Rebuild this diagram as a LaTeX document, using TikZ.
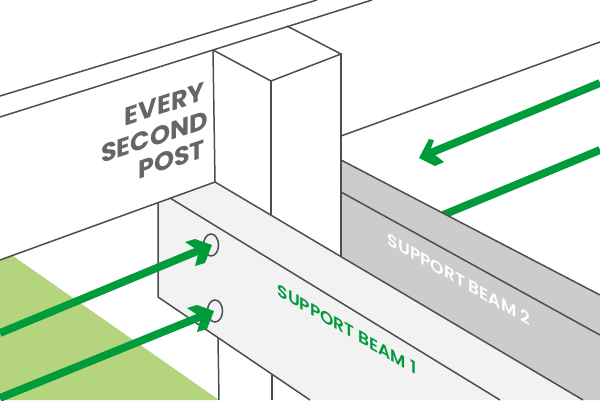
\documentclass[tikz,border=0pt]{standalone}
\usepackage{fontspec}
\setmainfont{Poppins}
\newfontfamily\beamfont{Poppins SemiBold}
\definecolor{ink}{HTML}{4D4D4D}
\definecolor{leaf}{HTML}{009B3A}
\definecolor{grass}{HTML}{B5D47E}
\definecolor{beamone}{HTML}{F2F2F2}
\definecolor{beamtwo}{HTML}{CCCCCC}
\definecolor{label}{HTML}{666666}
\tikzset{
  edge/.style={draw=ink,line width=1.5pt},
  shaft/.style={draw=leaf,line width=7.8pt},
  head/.style={fill=leaf,draw=none},
  posttext/.style={font=\bfseries\fontsize{25.5}{25.5}\selectfont,text=label,yslant=0.33,transform shape,inner sep=0pt,anchor=base east},
  beamtext/.style={font=\beamfont\fontsize{17}{17}\selectfont,yslant=-0.57,transform shape,inner sep=0pt}
}
\begin{document}
\begin{tikzpicture}[x=1pt,y=-1pt]
\useasboundingbox (0,0) rectangle (600,400);
\fill[white] (0,0) rectangle (600,400);
% ground
\fill[grass] (0,260) -- (13,256) -- (219,400) -- (0,400) -- cycle;
% far arrows behind the second beam
\draw[shaft] (600,150) -- (443,215);
\draw[shaft] (600,83) -- (428,154);
\fill[head] (419,158) -- (429,139) -- (434,140) -- (430,151) -- (444,162) -- (435,166) -- cycle;
% beam 2
\fill[beamtwo] (341,160) -- (600,295) -- (600,400) -- (583,400) -- (341,257) -- cycle;
\draw[edge] (341,160) -- (600,295);
\draw[edge] (341,192) -- (600,335);
% rails and post
\draw[edge] (0,96) -- (317,0);
\draw[edge] (0,117) -- (213,50) -- (372,0);
\draw[edge] (213,50) -- (271,81) -- (341,54) -- (287,26);
\draw[edge] (213,50) -- (215,182);
\draw[edge] (271,81) -- (271,216);
\draw[edge] (341,54) -- (341,257);
\draw[edge] (341,136) -- (600,42);
% beam 1
\fill[beamone] (158,203) -- (215,182) -- (583,400) -- (310,400) -- (158,297) -- cycle;
\draw[edge] (0,260) -- (215,182) -- (583,400);
\draw[edge] (170,198) -- (500,400);
\draw[edge] (158,203) -- (158,297) -- (310,400);
\draw[edge] (218,338) -- (219,400);
\draw[edge] (272,375) -- (272,400);
% bolt holes
\draw[edge,fill=beamone] (211,245) ellipse (7.5 and 11);
\draw[edge,fill=beamone] (215,311) ellipse (7.5 and 11);
% near arrows
\draw[shaft] (0,333) -- (200,250);
\fill[head] (212,245) -- (205,263) -- (195,266) -- (199,251) -- (185,242) -- (195,239) -- cycle;
\draw[shaft] (0,398) -- (202,316);
\fill[head] (214,311) -- (207,329) -- (197,332) -- (201,317) -- (187,308) -- (197,305) -- cycle;
% labels
\node[posttext] (every) at (205,100) {EVERY};
\node[posttext] (second) at (208,128) {SECOND};
\node[posttext] (post) at (205,157) {POST};
\node[beamtext,text=leaf] (beamonelabel) at (347,329) {SUPPORT BEAM 1};
\node[beamtext,text=white] (beamtwolabel) at (459,279) {SUPPORT BEAM 2};
\end{tikzpicture}
\end{document}
